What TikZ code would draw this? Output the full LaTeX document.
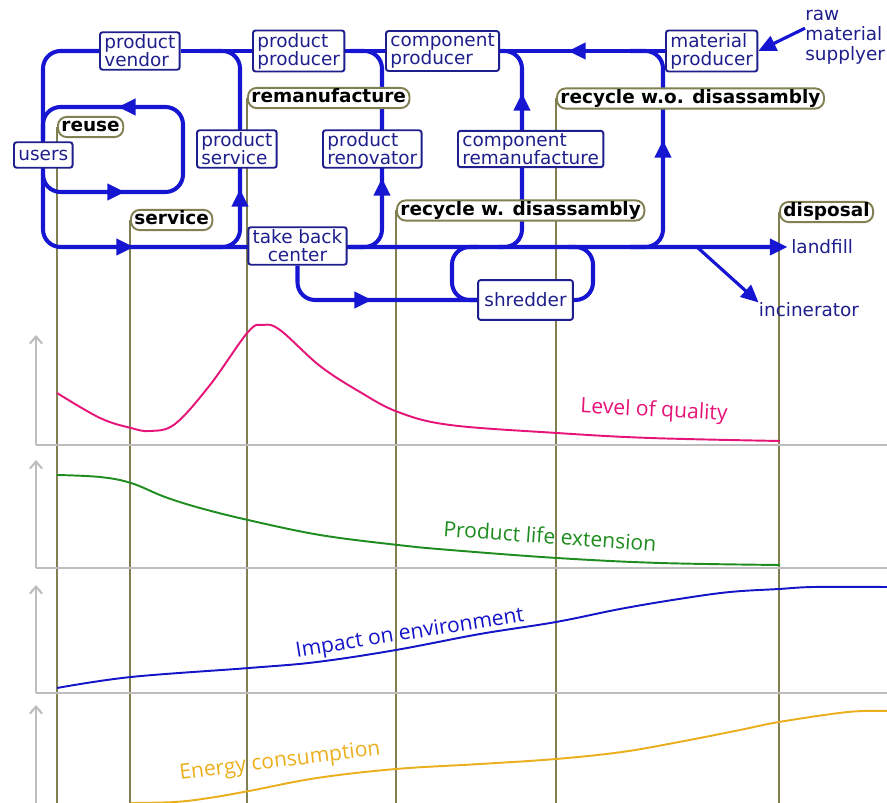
\documentclass[tikz,border=0pt]{standalone}
\usepackage{fontspec}
\setmainfont{DejaVu Sans}
\newfontfamily\curvefont{Open Sans}
\usetikzlibrary{arrows.meta,positioning}
\definecolor{flowblue}{RGB}{22,22,210}
\definecolor{boxblue}{RGB}{30,30,140}
\definecolor{stageolive}{RGB}{128,128,82}
\definecolor{axisgray}{RGB}{190,190,190}
\definecolor{qualpink}{RGB}{230,20,120}
\definecolor{lifegreen}{RGB}{30,140,30}
\definecolor{envblue}{RGB}{20,20,200}
\definecolor{energyorange}{RGB}{235,175,30}
\pgfdeclarelayer{lines}
\pgfdeclarelayer{flows}
\pgfsetlayers{lines,flows,main}

\begin{document}
\begin{tikzpicture}[x=0.02cm, y=-0.02cm,
    flow/.style={draw=flowblue, line width=2.3pt, rounded corners=10pt},
    flowtip/.style={-{Triangle[length=10pt,width=9pt]}},
    actor/.style={draw=boxblue, line width=1.1pt, fill=white, rounded corners=1.5pt, text=boxblue,
        align=left, inner xsep=2.5pt, inner ysep=1.5pt, font=\fontsize{10.5}{10.2}\selectfont},
    stage/.style={draw=stageolive, line width=1.1pt, fill=white, rounded corners=5pt,
        font=\bfseries\fontsize{10.5}{11}\selectfont, inner xsep=2pt, inner ysep=0.5pt,
        text height=8pt, text depth=2.5pt},
    stageline/.style={draw=stageolive, line width=1.2pt},
    axisline/.style={draw=axisgray, line width=1.2pt},
    curvelabel/.style={font=\curvefont\fontsize{12}{12}\selectfont}]
    \useasboundingbox (0,0) rectangle (887,803);

    % actors
    \node[actor, anchor=west] (vendor) at (99,51) {product\\vendor};
    \node[actor, anchor=west] (producer) at (252,51) {product\\producer};
    \node[actor, anchor=west] (compprod) at (385,51) {component\\producer};
    \node[actor, anchor=west] (matprod) at (665,51) {material\\producer};
    \node[text=boxblue, align=left, anchor=west, inner sep=0pt, font=\fontsize{10.5}{11.3}\selectfont] (supplier) at (805,37) {raw\\material\\supplyer};
    \node[actor, anchor=west, minimum height=14.5pt] (users) at (13,155) {users};
    \node[actor, anchor=west] (prodservice) at (196,149) {product\\service};
    \node[actor, anchor=west] (renovator) at (322,149) {product\\renovator};
    \node[actor, anchor=west] (compreman) at (457,149) {component\\remanufacture};
    \node[actor, align=center] (takeback) at (297.5,246) {take back\\center};
    \node[actor, minimum width=54pt, minimum height=22.7pt] (shredder) at (525.5,300) {shredder};
    \node[text=boxblue, anchor=west, inner sep=0pt, font=\fontsize{10.5}{11}\selectfont] (landfill) at (791,247) {landfill};
    \node[text=boxblue, inner sep=0pt, font=\fontsize{10.5}{11}\selectfont] (incinerator) at (809,310) {incinerator};

    % stages
    \node[stage, anchor=west] (reuse) at (57,127) {reuse};
    \node[stage, anchor=west] (service) at (130,220) {service};
    \node[stage, anchor=west] (reman) at (247,98) {remanufacture};
    \node[stage, anchor=west] (recyclew) at (396,210.5) {recycle w. disassambly};
    \node[stage, anchor=west] (recyclewo) at (556,98.5) {recycle w.o. disassambly};
    \node[stage, anchor=west] (disposal) at (779,212) {disposal};

    % stage lines and axes
    \begin{pgfonlayer}{lines}
        \foreach \s in {reuse,service,reman,recyclew,recyclewo,disposal}
            \draw[stageline] (\s.west) -- (\s.west |- 0,803);
        \foreach \base/\top in {445/335, 568/460, 693/585} {
            \draw[axisline, -{Straight Barb[length=4pt,width=7pt]}] (36,\base) -- (36,\top);
            \draw[axisline] (36,\base) -- (887,\base);
        }
        \draw[axisline, -{Straight Barb[length=4pt,width=7pt]}] (36,803) -- (36,705);
    \end{pgfonlayer}

    \begin{pgfonlayer}{flows}
        % main line
        \draw[flow, flowtip, shorten >=2pt] (vendor.west) -- (43,51) -- (43,247) -- (landfill.west);
        \draw[flow] (matprod.west) -- (vendor.east);
        \draw[flow, flowtip] (600,51) -- (568,51);
        \draw[flow, flowtip] (105,247) -- (134,247);
        % reuse
        \draw[flow] (43,140) -- (43,107) -- (183,107) -- (183,192) -- (43,192) -- (43,175);
        \draw[flow, flowtip] (145,107) -- (118,107);
        \draw[flow, flowtip] (98,192) -- (125,192);
        % service, renovator, component, recycle
        \draw[flow] (200,247) -- (240,247) -- (240,51) -- (200,51);
        \draw[flow, flowtip] (240,212) -- (240,189);
        \draw[flow] (350,247) -- (382,247) -- (382,51) -- (350,51);
        \draw[flow, flowtip] (382,205) -- (382,178);
        \draw[flow] (498,247) -- (522,247) -- (522,51) -- (497,51);
        \draw[flow, flowtip] (522,118) -- (522,93);
        \draw[flow] (630,247) -- (663,247) -- (663,51) -- (630,51);
        \draw[flow, flowtip] (663,166) -- (663,140);
        % shredder
        \draw[flow] (takeback.south) |- (shredder.west);
        \draw[flow, flowtip] (345,300) -- (372,300);
        \draw[flow] (shredder.west) -- (452,300) -- (452,247) -- (478,247);
        \draw[flow] (shredder.east) -- (593,300) -- (593,247) -- (568,247);
        % disposal and supply
        \draw[flow, line width=1.8pt, flowtip] (697,247) -- (incinerator.north west);
        \draw[flow, line width=1.8pt, flowtip] ([yshift=5pt]supplier.west) -- (matprod.east);

        % curves
        \draw[qualpink, line width=1.1pt] plot[smooth, tension=0.6] coordinates {(57,393) (100,418) (131,428) (150,431) (175,424) (210,385) (248,332) (263,325) (280,330) (320,366) (360,392) (398,412) (450,425) (557,433) (650,438) (780,441)};
        \draw[lifegreen, line width=1.1pt] plot[smooth, tension=0.6] coordinates {(57,475) (100,477) (131,483) (165,497) (200,508) (248,520) (320,535) (398,545) (450,550) (557,558) (660,563) (780,565)};
        \draw[envblue, line width=1.1pt] plot[smooth, tension=0.6] coordinates {(57,688) (131,677) (249,668) (317,662) (396,650) (480,634) (556,622) (620,609) (679,599) (730,592) (779,589) (814,587) (887,587)};
        \draw[energyorange, line width=1.1pt] plot[smooth, tension=0.6] coordinates {(131,803) (175,802) (209,798) (249,791) (317,778) (396,769) (480,764) (556,759) (622,752) (679,742) (740,730) (779,722) (848,712) (887,711)};
    \end{pgfonlayer}

    \node[curvelabel, text=qualpink, rotate=-3] (quality) at (654,411) {Level of quality};
    \node[curvelabel, text=lifegreen, rotate=-4] (life) at (550,536) {Product life extension};
    \node[curvelabel, text=envblue, rotate=9] (impact) at (410,634) {Impact on environment};
    \node[curvelabel, text=energyorange, rotate=7] (energy) at (280,762) {Energy consumption};
\end{tikzpicture}
\end{document}
